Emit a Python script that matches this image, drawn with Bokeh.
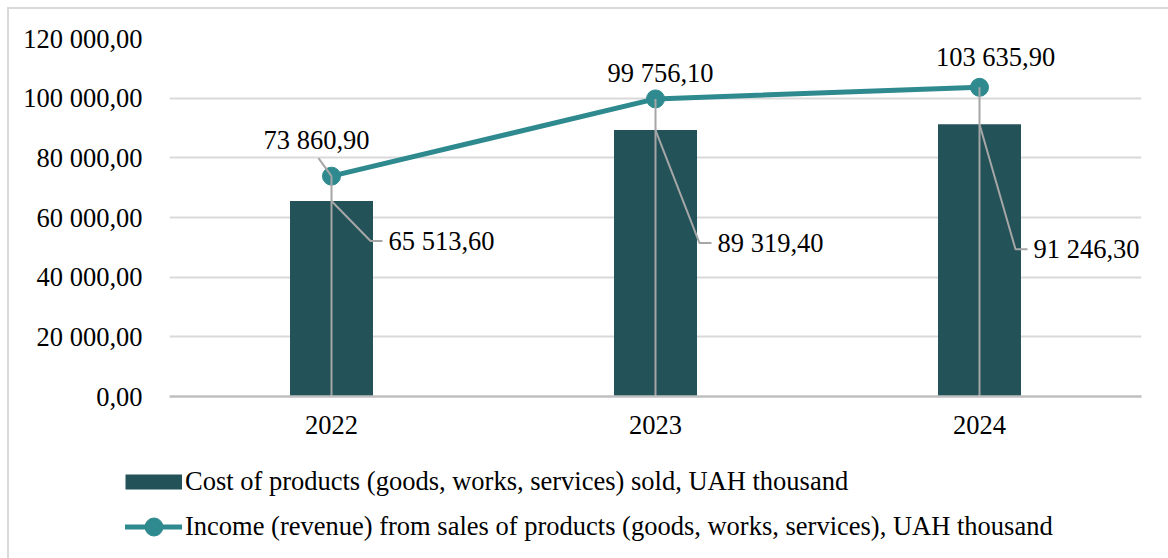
from bokeh.plotting import figure
from bokeh.layouts import column
from bokeh.models import (ColumnDataSource, FixedTicker, Legend, LegendItem, Range1d)
from bokeh.embed import file_html
from bokeh.resources import INLINE
from bokeh.core.properties import value

# ---- data ----
years = ["2022", "2023", "2024"]
cost = [65513.6, 89319.4, 91246.3]
income = [73860.9, 99756.1, 103635.9]
y_ticks = [0, 20000, 40000, 60000, 80000, 100000, 120000]
cost_name = "Cost of products (goods, works, services) sold, UAH thousand"
income_name = "Income (revenue) from sales of products (goods, works, services), UAH thousand"

# ---- label placement (screen pixels) ----
cost_lbl_dx = [57, 62, 54]
cost_lbl_dy = [40, 113, 125]
inc_lbl_dx = [-15, 5, 16]
inc_lbl_dy = [-36, -26, -30]
inc_leader = [True, False, False]


def fmt(v):
    return f"{v:,.2f}".replace(",", " ").replace(".", ",")


FONT = "Liberation Serif"
FS = "26.5px"
BAR = "#235358"
LINE = "#2e8a8e"
LEAD = "#a6a6a6"
EDGE = "#d9d9d9"

FW, FH = 972, 358
YMAX = 120000
px_x = FW / 3.0
px_y = FH / YMAX

xs = list(range(len(years)))

p = figure(output_backend="svg", toolbar_location=None,
           frame_width=FW, frame_height=FH,
           x_range=Range1d(-0.5, 2.5), y_range=Range1d(0, YMAX),
           min_border_left=169, min_border_right=27,
           min_border_top=38, min_border_bottom=50)
p.frame_align = False
p.styles = {
    "background": (f"linear-gradient({EDGE}, {EDGE}) 7px 7px / 2px 100% no-repeat, "
                   f"linear-gradient({EDGE}, {EDGE}) 7px 7px / 100% 2px no-repeat, white"),
}
p.outline_line_color = None
p.background_fill_color = "white"
p.border_fill_alpha = 0

# axes
p.xaxis.ticker = FixedTicker(ticks=xs)
p.xaxis.major_label_overrides = {i: y for i, y in enumerate(years)}
p.yaxis.ticker = FixedTicker(ticks=y_ticks)
p.yaxis.major_label_overrides = {t: fmt(t) for t in y_ticks}
for ax in (p.xaxis, p.yaxis):
    ax.major_tick_line_color = None
    ax.minor_tick_line_color = None
    ax.major_label_text_font = FONT
    ax.major_label_text_font_size = FS
    ax.major_label_text_color = "#000000"
p.yaxis.axis_line_color = None
p.yaxis.major_label_standoff = 21
p.xaxis.axis_line_color = "#bfbfbf"
p.xaxis.axis_line_width = 2.5
p.xaxis.major_label_standoff = 13
p.xgrid.grid_line_color = None
p.ygrid.ticker = FixedTicker(ticks=y_ticks)
p.ygrid.grid_line_color = EDGE
p.ygrid.grid_line_width = 2

src = ColumnDataSource(dict(
    x=xs, cost=cost, income=income, zero=[0] * 3,
    cost_lbl=[fmt(v) for v in cost], inc_lbl=[fmt(v) for v in income],
    cdx=cost_lbl_dx, cdy=cost_lbl_dy, idx=inc_lbl_dx, idy=inc_lbl_dy,
))

bars = p.vbar(x="x", top="cost", width=83 / px_x, source=src,
              fill_color=BAR, line_color=None)
ln = p.line(x="x", y="income", source=src, line_color=LINE, line_width=5)
sc = p.scatter(x="x", y="income", source=src, size=18,
               fill_color=LINE, line_color=LINE)

# drop lines from markers to baseline
p.segment(x0="x", y0="income", x1="x", y1="zero", source=src,
          line_color=LEAD, line_width=2)

# leader lines to labels
lx, ly = [], []
for i in xs:
    ex = i + (cost_lbl_dx[i] - 18) / px_x
    ey = cost[i] - cost_lbl_dy[i] / px_y
    hx = i + (cost_lbl_dx[i] - 6) / px_x
    lx.append([i, ex, hx])
    ly.append([cost[i], ey, ey])
for i in xs:
    if inc_leader[i]:
        lx.append([i, i + (inc_lbl_dx[i] + 2) / px_x])
        ly.append([income[i], income[i] - (inc_lbl_dy[i] + 18) / px_y])
p.multi_line(xs=lx, ys=ly, line_color=LEAD, line_width=2)

p.text(x="x", y="cost", text="cost_lbl", source=src, x_offset="cdx", y_offset="cdy",
       text_align="left", text_baseline="middle", text_font=value(FONT),
       text_font_size=FS, text_color="#000000")
p.text(x="x", y="income", text="inc_lbl", source=src, x_offset="idx", y_offset="idy",
       text_align="center", text_baseline="middle", text_font=value(FONT),
       text_font_size=FS, text_color="#000000")

# ---- legend strip below the chart ----
lg = figure(output_backend="svg", toolbar_location=None, width=1168, height=112,
            x_axis_type=None, y_axis_type=None, x_range=Range1d(0, 1), y_range=Range1d(0, 1),
            min_border=0)
lg.frame_align = False
lg.styles = {"background": f"linear-gradient({EDGE}, {EDGE}) 7px 0 / 2px 100% no-repeat, white"}
lg.outline_line_color = None
lg.background_fill_alpha = 0
lg.border_fill_alpha = 0
lg.grid.visible = False
nan = [float("nan")]
sw_bar = lg.line(x=nan, y=nan, line_color=BAR, line_width=15, line_cap="butt")
sw_ln = lg.line(x=nan, y=nan, line_color=LINE, line_width=5, line_cap="round")
sw_sc = lg.scatter(x=nan, y=nan, fill_color=LINE, line_color=LINE)

legend = Legend(items=[LegendItem(label=cost_name, renderers=[sw_bar]),
                       LegendItem(label=income_name, renderers=[sw_ln, sw_sc])],
                location=(125, 9.5), orientation="vertical",
                glyph_width=57, glyph_height=45, label_height=45, spacing=0,
                padding=0, margin=0, label_standoff=3,
                label_text_font=FONT, label_text_font_size=FS,
                label_text_color="#000000",
                border_line_color=None, background_fill_alpha=0)
lg.add_layout(legend, "center")

layout = column(p, lg, spacing=0)
open("out.html", "w").write(file_html(layout, INLINE))
